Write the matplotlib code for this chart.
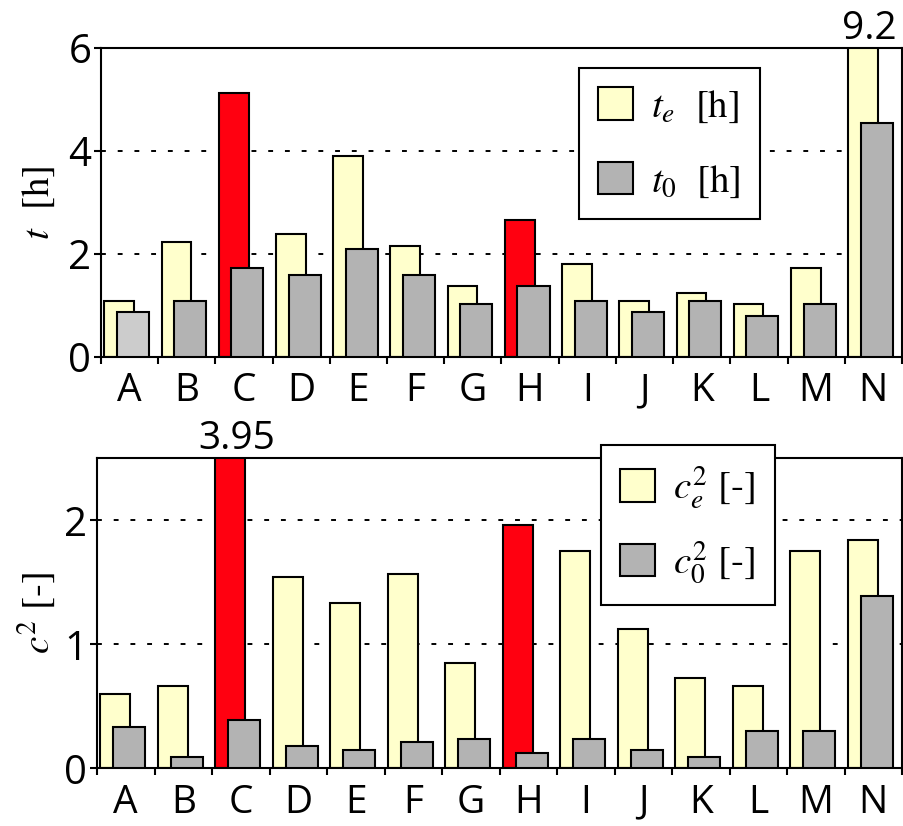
import matplotlib
matplotlib.use('Agg')
import matplotlib.pyplot as plt
import numpy as np

plt.rcParams['mathtext.fontset'] = 'stix'
plt.rcParams['font.family'] = ['Open Sans', 'DejaVu Sans']

categories = list('ABCDEFGHIJKLMN')
highlight = ['C', 'H']  # categories drawn in red

# top panel: times [h]
t_e = [1.09, 2.24, 5.12, 2.38, 3.90, 2.16, 1.38, 2.67, 1.81, 1.09, 1.24, 1.02, 1.73, 9.2]
t_0 = [0.87, 1.09, 1.73, 1.59, 2.10, 1.59, 1.02, 1.38, 1.09, 0.87, 1.09, 0.80, 1.02, 4.54]

# bottom panel: squared coefficients [-]
c2_e = [0.60, 0.665, 3.95, 1.54, 1.335, 1.57, 0.85, 1.965, 1.75, 1.12, 0.73, 0.665, 1.75, 1.84]
c2_0 = [0.33, 0.09, 0.39, 0.18, 0.15, 0.21, 0.24, 0.12, 0.24, 0.15, 0.09, 0.30, 0.30, 1.39]

YELLOW = '#ffffcc'
GRAY = '#b3b3b3'
LIGHTGRAY = '#cccccc'
RED = '#ff0010'
SERIF = 'STIXGeneral'


def draw_panel(ax, vals_e, vals_0, ymax, yticks, ylabel, labels, legend_anchor, label_x,
               spacing, light_first=False):
    x = np.arange(len(categories))
    col_e = [RED if c in highlight else YELLOW for c in categories]
    col_0 = [GRAY] * len(categories)
    if light_first:
        col_0[0] = LIGHTGRAY
    ax.bar(x - 0.18, vals_e, width=0.52, color=col_e, edgecolor='black', linewidth=1.5, zorder=2)
    ax.bar(x + 0.06, vals_0, width=0.56, color=col_0, edgecolor='black', linewidth=1.5, zorder=3)

    ax.set_xlim(-0.5, len(categories) - 0.5)
    ax.set_ylim(0, ymax)
    ax.set_yticks(yticks)
    ax.set_xticks(x)
    ax.set_xticklabels(categories)
    ax.set_xticks(np.arange(len(categories) + 1) - 0.5, minor=True)
    ax.tick_params(axis='x', which='major', length=0, labelsize=28, pad=11)
    ax.tick_params(axis='x', which='minor', length=5, width=1.5, direction='out')
    ax.tick_params(axis='y', length=5, width=1.5, direction='out', labelsize=29, pad=2)
    for s in ax.spines.values():
        s.set_linewidth(1.5)

    ax.yaxis.grid(True, color='black', linewidth=1.4, linestyle=(0, (2.5, 6.1)))
    ax.set_axisbelow(True)
    ax.set_ylabel(ylabel, fontsize=28, fontfamily=SERIF)
    ax.yaxis.set_label_coords(label_x, 0.5)

    # values beyond the axis range are written above the clipped bar
    for i, v in enumerate(vals_e):
        if v > ymax:
            ax.annotate(f'{v:g}', (i - 0.07, ymax), ha='center', va='bottom',
                        fontsize=28, annotation_clip=False)

    leg = ax.legend(labels, loc='upper left', bbox_to_anchor=legend_anchor,
                    bbox_transform=ax.figure.transFigure,
                    prop={'family': SERIF, 'size': 28},
                    handlelength=0.9, handleheight=0.9, handletextpad=0.45,
                    labelspacing=spacing, borderpad=0.5, borderaxespad=0,
                    fancybox=False, framealpha=1, edgecolor='black')
    leg.get_frame().set_linewidth(1.5)
    for h, c in zip(leg.legend_handles, [YELLOW, GRAY]):
        h.set_facecolor(c)


fig = plt.figure(figsize=(9.04, 8.26), dpi=100)
ax1 = fig.add_axes([0.1117, 0.5678, 0.886, 0.374])
ax2 = fig.add_axes([0.1073, 0.0698, 0.8905, 0.3754])

draw_panel(ax1, t_e, t_0, 6, [0, 2, 4, 6], r'$t$  [h]',
           [r'$t_e$  [h]', r'$t_0$  [h]'],
           (579 / 904, 1 - 68 / 826), -0.055, 0.95, light_first=True)
draw_panel(ax2, c2_e, c2_0, 2.5, [0, 1, 2], r'$c^2$ [-]',
           [r'$c_e^2$ [-]', r'$c_0^2$ [-]'],
           (601 / 904, 1 - 445 / 826), -0.05, 0.72)

fig.savefig('out.png', dpi=100)
